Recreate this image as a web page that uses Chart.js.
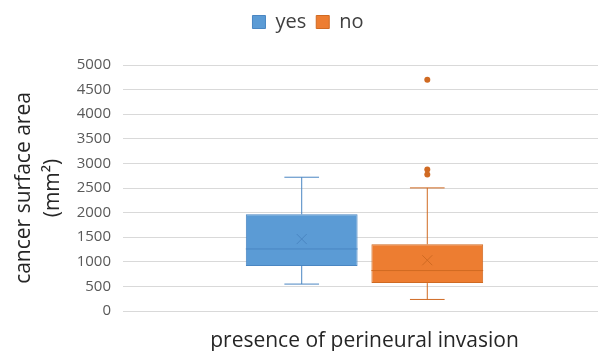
<!DOCTYPE html>
<html>
<head>
<meta charset="utf-8">
<script src="https://cdn.jsdelivr.net/npm/chart.js@4"></script>
<style>
  html, body { margin: 0; padding: 0; background: #fff; overflow: hidden; }
  #wrap { width: 606px; height: 351px; }
</style>
</head>
<body>
<div id="wrap"><canvas id="myChart" width="606" height="351"></canvas></div>
<script>
// box plot values
const categories = ['presence of perineural invasion']
const seriesNames = ['yes', 'no']
const q1 = [917, 567]
const q3 = [1964, 1356]
const medians = [1261, 822]
const means = [1463, 1032]
const whiskerLow = [547, 235]
const whiskerHigh = [2719, 2502]
const outliers = [[], [2773, 2874, 4702]]
const yTicks = [0, 500, 1000, 1500, 2000, 2500, 3000, 3500, 4000, 4500, 5000]

const fills = ['#5B9BD5', '#ED7D31']
const edges = ['#4A86C2', '#D06A22']

// draws whiskers, medians, mean markers and outliers on top of the floating bars
const boxExtras = {
  id: 'boxExtras',
  afterInit(chart) {
    // extra room under the legend
    const fit = chart.legend.fit
    chart.legend.fit = function() {
      fit.call(this)
      this.height += 23
    }
  },
  afterDatasetsDraw(chart) {
    const ctx = chart.ctx
    const y = chart.scales.y
    chart.data.datasets.forEach(function(ds, i) {
      const bar = chart.getDatasetMeta(i).data[0]
      const cx = bar.x
      const half = bar.width / 2
      const cap = bar.width * 0.155
      ctx.save()
      ctx.strokeStyle = edges[i]
      ctx.lineWidth = 1
      ctx.beginPath()
      // upper whisker
      ctx.moveTo(cx, y.getPixelForValue(q3[i]))
      ctx.lineTo(cx, y.getPixelForValue(whiskerHigh[i]))
      ctx.moveTo(cx - cap, y.getPixelForValue(whiskerHigh[i]))
      ctx.lineTo(cx + cap, y.getPixelForValue(whiskerHigh[i]))
      // lower whisker
      ctx.moveTo(cx, y.getPixelForValue(q1[i]))
      ctx.lineTo(cx, y.getPixelForValue(whiskerLow[i]))
      ctx.moveTo(cx - cap, y.getPixelForValue(whiskerLow[i]))
      ctx.lineTo(cx + cap, y.getPixelForValue(whiskerLow[i]))
      // median
      ctx.moveTo(cx - half, y.getPixelForValue(medians[i]))
      ctx.lineTo(cx + half, y.getPixelForValue(medians[i]))
      // mean cross
      const my = y.getPixelForValue(means[i])
      ctx.moveTo(cx - 5, my - 5); ctx.lineTo(cx + 5, my + 5)
      ctx.moveTo(cx - 5, my + 5); ctx.lineTo(cx + 5, my - 5)
      ctx.stroke()
      ctx.fillStyle = edges[i]
      for (let v of outliers[i]) {
        ctx.beginPath()
        ctx.arc(cx, y.getPixelForValue(v), 3, 0, Math.PI * 2)
        ctx.fill()
      }
      ctx.restore()
    })
  }
}

const datasets = seriesNames.map(function(name, i) {
  return {
    label: name,
    data: [[q1[i], q3[i]]],
    backgroundColor: fills[i],
    borderColor: edges[i],
    borderWidth: 1,
    borderSkipped: false,
    barPercentage: 0.89,
    categoryPercentage: 0.52
  }
})

const barChart = new Chart('myChart', {
  type: 'bar',
  data: { labels: categories, datasets: datasets },
  plugins: [boxExtras],
  options: {
    responsive: false,
    animation: false,
    devicePixelRatio: 1,
    layout: { padding: { left: 10, right: 0, top: 2, bottom: 0 } },
    plugins: {
      legend: {
        position: 'top',
        labels: {
          boxWidth: 13,
          boxHeight: 13,
          color: '#404040',
          font: { family: 'Open Sans', size: 20 },
          padding: 10
        }
      },
      tooltip: { enabled: false }
    },
    scales: {
      x: {
        afterFit: function(scale) { scale.height = 40 },
        grid: { display: false, drawTicks: false },
        border: { color: '#D9D9D9' },
        ticks: {
          color: '#262626',
          font: { family: 'Open Sans', size: 21 },
          padding: 17,
          maxRotation: 0,
          minRotation: 0,
          autoSkip: false
        }
      },
      y: {
        min: 0,
        max: 5000,
        afterFit: function(scale) { scale.width = 113 },
        afterBuildTicks: function(scale) {
          scale.ticks = yTicks.map(function(v) { return { value: v } })
        },
        grid: { color: '#D9D9D9', drawTicks: false },
        border: { display: false },
        ticks: {
          color: '#595959',
          font: { family: 'Open Sans', size: 15 },
          padding: 12,
          callback: function(v) { return String(v) }
        },
        title: {
          display: true,
          text: ['cancer surface area', '(mm\u00B2)'],
          color: '#262626',
          font: { family: 'Open Sans', size: 21, lineHeight: 1.35 },
          padding: { top: 0, bottom: 15 }
        }
      }
    }
  }
})
</script>
</body>
</html>
